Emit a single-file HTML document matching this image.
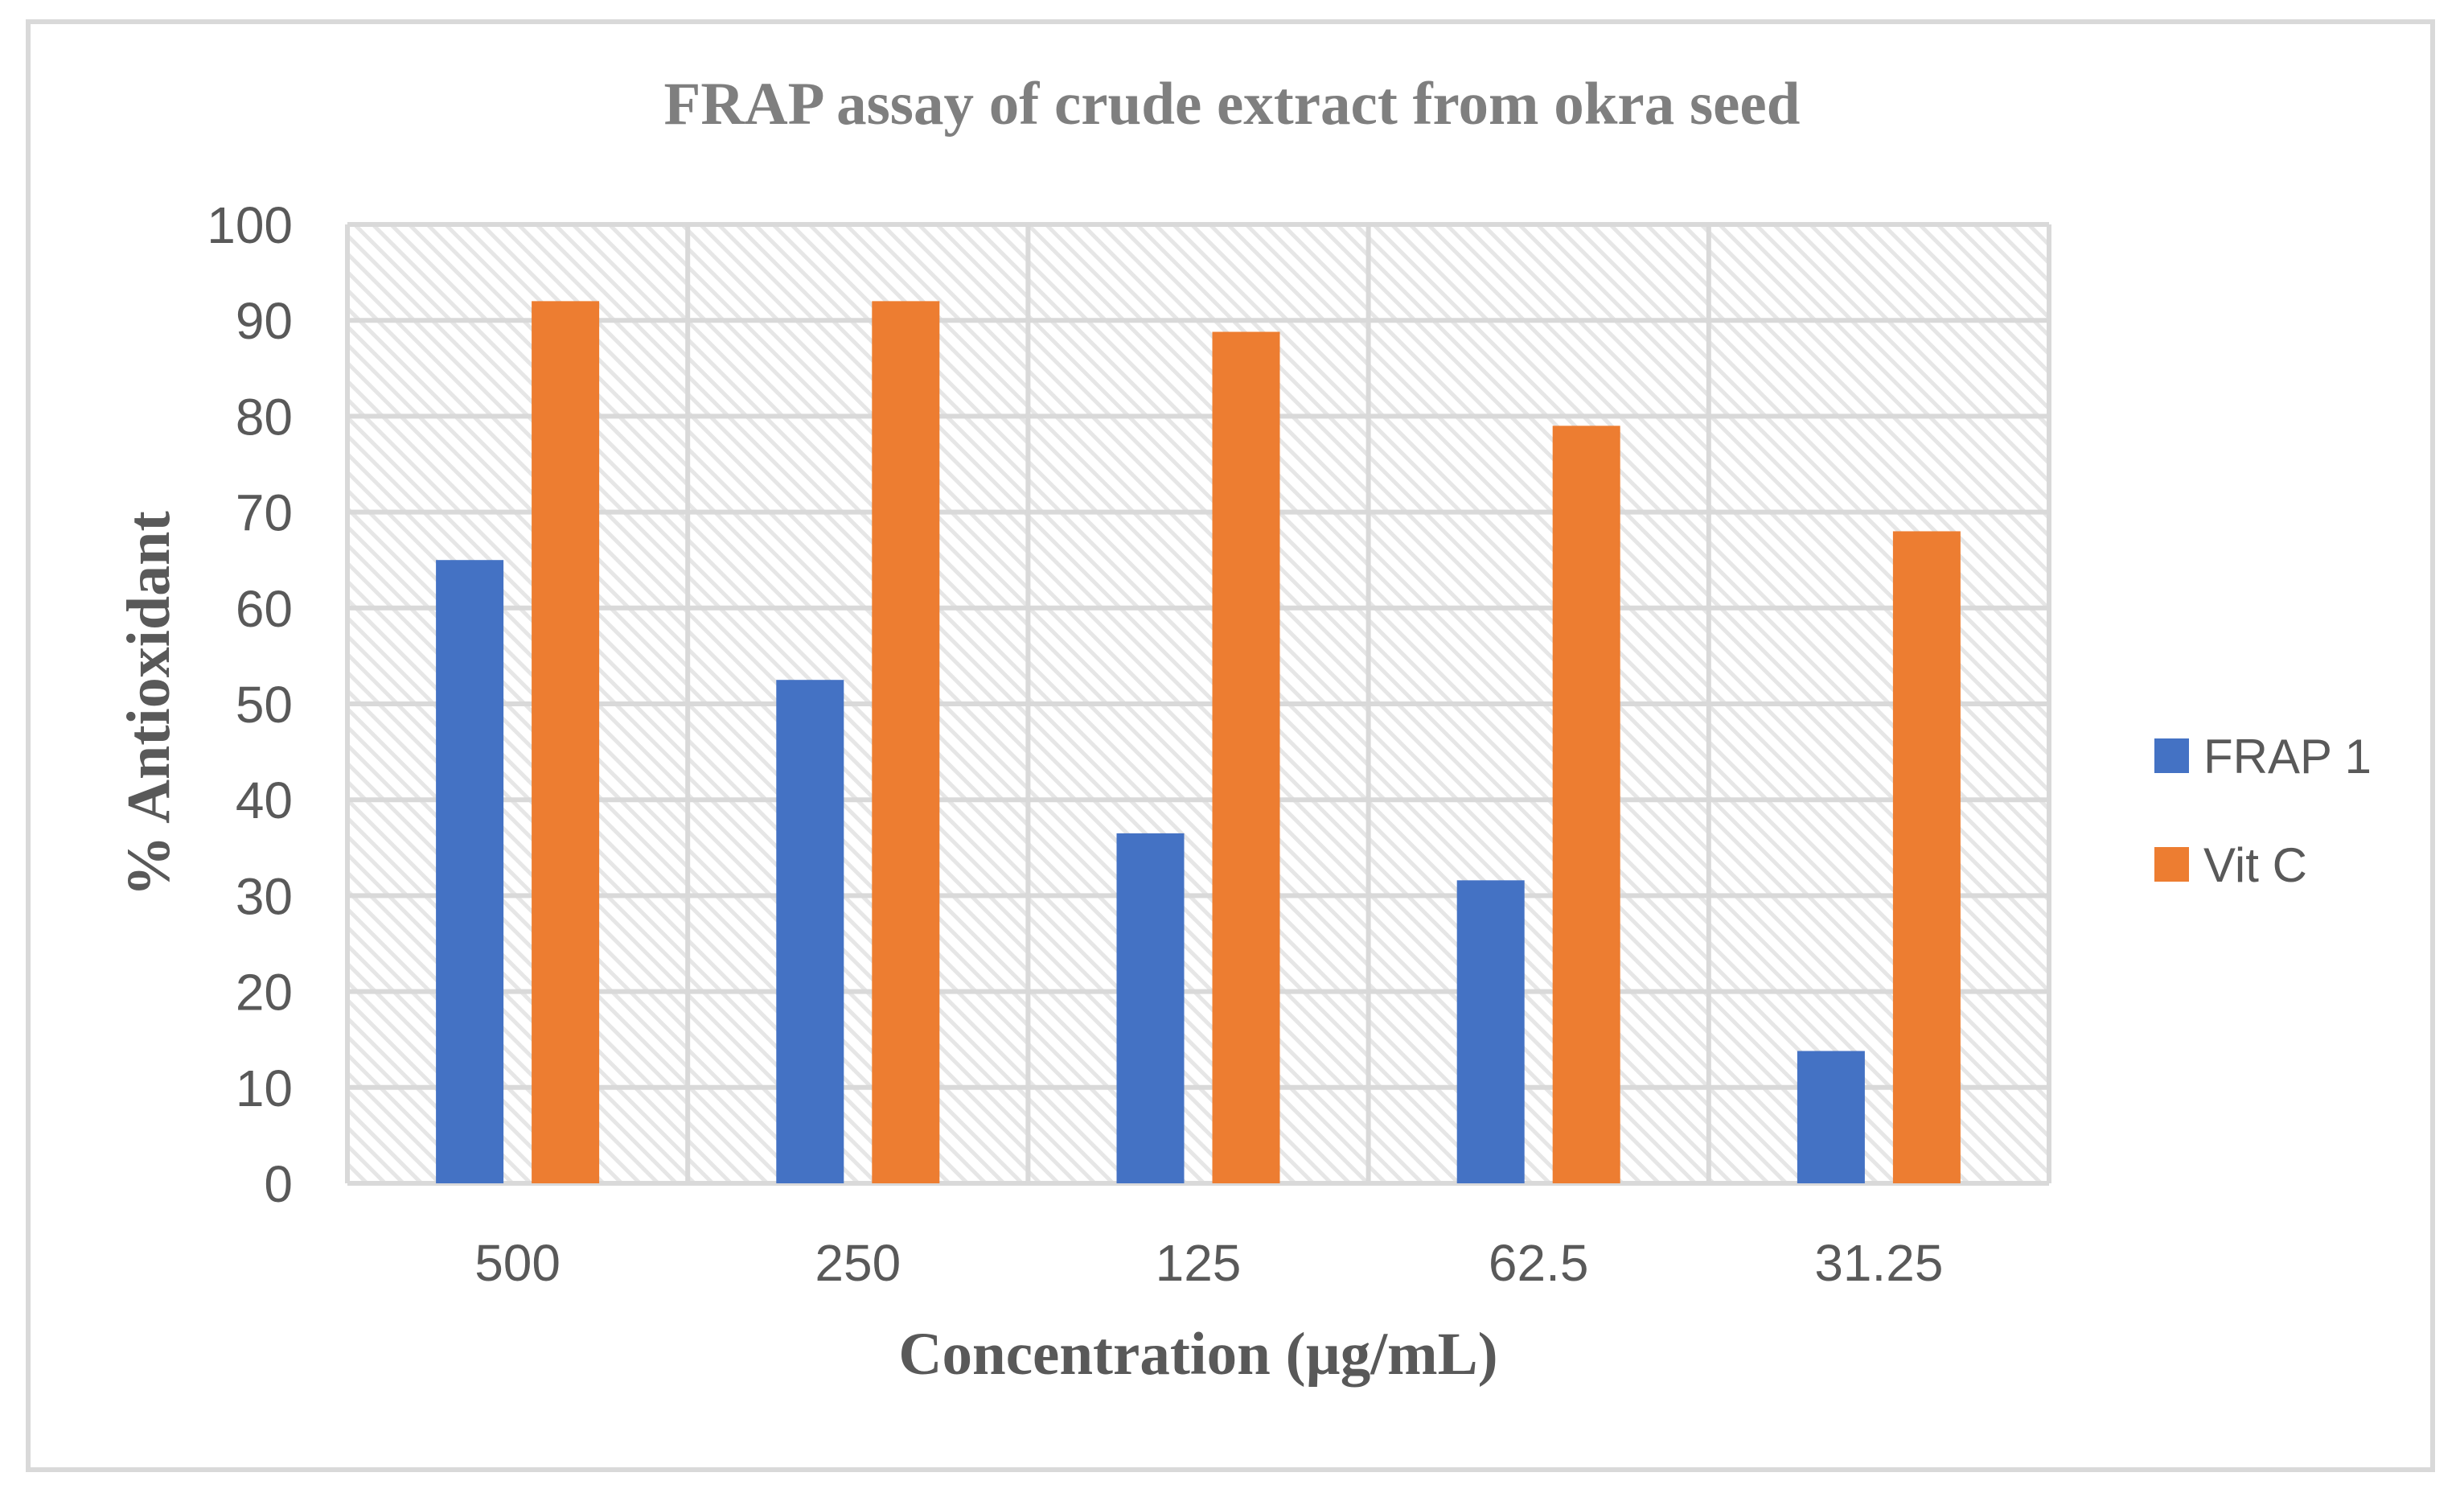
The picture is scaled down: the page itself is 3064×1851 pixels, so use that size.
<!DOCTYPE html>
<html><head><meta charset="utf-8"><style>
html,body{margin:0;padding:0;background:#fff;}
svg{display:block;}
</style></head><body>
<svg id="chart" width="3064" height="1851" viewBox="0 0 3064 1851" xmlns="http://www.w3.org/2000/svg">
<defs>
<pattern id="hatch" patternUnits="userSpaceOnUse" width="16" height="16" patternTransform="rotate(-45)">
<rect width="16" height="16" fill="#ffffff"/>
<rect x="0" y="0" width="5" height="16" fill="#e6e6e6"/>
</pattern>
</defs>
<rect x="35" y="27" width="2990" height="1800" fill="#fff" stroke="#d9d9d9" stroke-width="6"/>
<text x="1532" y="154" text-anchor="middle" font-family="Liberation Serif, serif" font-weight="bold" font-size="75" fill="#7f7f7f">FRAP assay of crude extract from okra seed</text>
<rect x="432" y="279" width="2116" height="1192" fill="url(#hatch)"/>
<g id="grid"></g>
<g id="bars"></g>
<g id="yticks"></g>
<g id="xticks"></g>
<text transform="translate(210,875) rotate(-90)" text-anchor="middle" font-family="Liberation Serif, serif" font-weight="bold" font-size="76" fill="#595959">% Antioxidant</text>
<text x="1490" y="1708" text-anchor="middle" font-family="Liberation Serif, serif" font-weight="bold" font-size="75" fill="#595959">Concentration (µg/mL)</text>
<g>
<rect x="2679" y="918" width="43" height="43" fill="#4472c4"/>
<text x="2740" y="961" font-family="Liberation Sans, sans-serif" font-size="60" fill="#595959">FRAP 1</text>
<rect x="2679" y="1053" width="43" height="43" fill="#ed7d31"/>
<text x="2740" y="1096" font-family="Liberation Sans, sans-serif" font-size="60" fill="#595959">Vit C</text>
</g>
</svg>
<script>
const categories = ["500","250","125","62.5","31.25"];
const frapValues = [65, 52.5, 36.5, 31.6, 13.8];
const vitcValues = [92, 92, 88.8, 79, 68];
const yTicks = [0,10,20,30,40,50,60,70,80,90,100];

const NS = "http://www.w3.org/2000/svg";
const L = 432, R = 2548, T = 279, B = 1471;
const yMax = 100;
const y = v => B - (v / yMax) * (B - T);
const bandW = (R - L) / categories.length;
const xBand = i => L + i * bandW;
const barW = 84, gap = 35;

function mk(tag, attrs, parent) {
  const el = document.createElementNS(NS, tag);
  for (const k in attrs) el.setAttribute(k, attrs[k]);
  parent.appendChild(el);
  return el;
}
const grid = document.getElementById('grid');
const bars = document.getElementById('bars');
const yt = document.getElementById('yticks');
const xt = document.getElementById('xticks');

yTicks.forEach(v => {
  const ln = mk('line', {x1: L, x2: R, y1: y(v), y2: y(v), stroke: '#d9d9d9', 'stroke-width': 6}, grid);
  
  
  const t = mk('text', {x: 364, y: y(v) + 23, 'text-anchor': 'end', 'font-family': 'Liberation Sans, sans-serif', 'font-size': 64, fill: '#595959'}, yt);
  t.textContent = v;
  
  
});
for (let i = 0; i <= categories.length; i++) {
  const ln = mk('line', {x1: xBand(i), x2: xBand(i), y1: T, y2: B, stroke: '#d9d9d9', 'stroke-width': 6}, grid);
  
  
}
categories.forEach((c, i) => {
  const cx = xBand(i) + bandW / 2;
  const x0 = cx - (2 * barW + gap) / 2;
  const b1 = mk('rect', {x: x0, y: y(frapValues[i]), width: barW, height: B - y(frapValues[i]), fill: '#4472c4'}, bars);
  
  
  const b2 = mk('rect', {x: x0 + barW + gap, y: y(vitcValues[i]), width: barW, height: B - y(vitcValues[i]), fill: '#ed7d31'}, bars);
  
  
  const t = mk('text', {x: cx, y: 1592, 'text-anchor': 'middle', 'font-family': 'Liberation Sans, sans-serif', 'font-size': 64, fill: '#595959'}, xt);
  t.textContent = c;
  
  
});
</script>
</body></html>
